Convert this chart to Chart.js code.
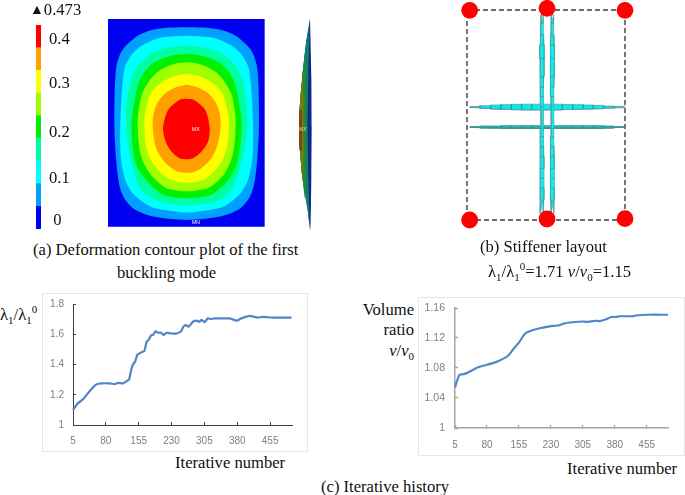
<!DOCTYPE html>
<html>
<head>
    <title>Buckling mode and iterative history</title>
    <script src="https://cdn.jsdelivr.net/npm/chart.js"></script>
    <style>
        html, body { margin: 0; padding: 0; background: #fff; overflow: hidden; }
        body { width: 685px; height: 495px; position: relative; }
        canvas { position: absolute; }
        .t { position: absolute; white-space: nowrap; font: 16.6px/18px "Liberation Serif", serif; color: #111; }
        .t sub, .t sup { font-size: 11px; line-height: 0; }
        .mark { position: absolute; font: 5px/5px "Liberation Sans", sans-serif; color: #fff; }
        .frame { position: absolute; border: 1px solid #e6e6e6; box-sizing: border-box; }
    </style>
</head>
<body>
    <div class="frame" style="left:42px;top:293px;width:266px;height:159px"></div>
    <div class="frame" style="left:418px;top:297px;width:267px;height:159px"></div>

    <canvas id="colorBar" width="44" height="218" style="left:34px;top:18px"></canvas>
    <canvas id="contourChart" width="157" height="208" style="left:108px;top:19px"></canvas>
    <canvas id="sideChart" width="40" height="225" style="left:285px;top:10px"></canvas>
    <canvas id="stiffenerChart" width="210" height="240" style="left:440px;top:0"></canvas>
    <canvas id="lambdaChart" width="264" height="157" style="left:43px;top:294px"></canvas>
    <canvas id="volumeChart" width="265" height="157" style="left:419px;top:298px"></canvas>

    <div class="t" style="left:30px;top:1px"><span style="font-size:14px;position:relative;top:-1px">▲</span>0.473</div>
    <div class="mark" style="left:192px;top:127px">MX</div>
    <div class="mark" style="left:192px;top:220px">MN</div>
    <div class="mark" style="left:299px;top:127px;color:#ddd">MX</div>

    <div class="t" style="left:33px;top:241px">(a) Deformation contour plot of the first</div>
    <div class="t" style="left:117px;top:264px">buckling mode</div>
    <div class="t" style="left:480px;top:238px">(b) Stiffener layout</div>
    <div class="t" style="left:488px;top:263px">λ<sub>1</sub>/λ<sub>1</sub><sup>0</sup>=1.71 <i>v</i>/<i>v</i><sub>0</sub>=1.15</div>
    <div class="t" style="left:0;top:306px">λ<sub>1</sub>/λ<sub>1</sub><sup>0</sup></div>
    <div class="t" style="left:175px;top:454px">Iterative number</div>
    <div class="t" style="right:271px;top:301px">Volume</div>
    <div class="t" style="right:271px;top:321px">ratio</div>
    <div class="t" style="right:271px;top:342px"><i>v</i>/<i>v</i><sub>0</sub></div>
    <div class="t" style="left:567px;top:460px">Iterative number</div>
    <div class="t" style="left:321px;top:478px">(c) Iterative history</div>

    <script>
        // iterative histories
        const iterTicks = [5, 80, 155, 230, 305, 380, 455];

        const lambdaIter = [5, 16, 28, 39, 51, 58, 70, 89, 100, 108, 119, 130, 133, 138, 142, 147, 152, 161, 168, 173, 177, 184, 188, 193, 199, 206, 212, 218, 229, 241, 252, 257, 263, 269, 279, 286, 294, 298, 305, 313, 320, 328, 343, 362, 379, 389, 408, 427, 438, 461, 504];
        const lambdaRatio = [1.10, 1.143, 1.17, 1.21, 1.25, 1.268, 1.275, 1.275, 1.27, 1.278, 1.275, 1.295, 1.30, 1.365, 1.40, 1.42, 1.465, 1.48, 1.49, 1.55, 1.56, 1.595, 1.595, 1.62, 1.61, 1.61, 1.595, 1.61, 1.605, 1.605, 1.62, 1.65, 1.66, 1.65, 1.683, 1.69, 1.683, 1.695, 1.68, 1.705, 1.70, 1.705, 1.705, 1.705, 1.69, 1.705, 1.722, 1.71, 1.715, 1.71, 1.71];
        const lambdaTicks = [1, 1.2, 1.4, 1.6, 1.8];

        const volumeIter = [5, 10, 16, 25, 39, 55, 71, 90, 106, 129, 141, 157, 168, 180, 204, 227, 250, 262, 282, 305, 313, 336, 344, 360, 372, 383, 391, 422, 430, 458, 505];
        const volumeRatio = [1.0542, 1.0636, 1.071, 1.0716, 1.075, 1.08, 1.083, 1.0858, 1.089, 1.096, 1.1045, 1.1155, 1.125, 1.129, 1.133, 1.1355, 1.137, 1.1395, 1.141, 1.142, 1.1415, 1.143, 1.1425, 1.145, 1.148, 1.148, 1.149, 1.149, 1.15, 1.151, 1.151];
        const volumeTicks = [1, 1.04, 1.08, 1.12, 1.16];

        // colour scale of the contour plot
        const bandColors = ['#0000f0', '#00a0ff', '#00ffff', '#00ffa0', '#00f000', '#a0ff00', '#ffff00', '#ffa000', '#ff0000'];
        const bandSizes = [0.0526, 0.0526, 0.0526, 0.0525, 0.0526, 0.0525, 0.0526, 0.0525, 0.0525];
        const colorTickValues = [0.0186, 0.1165, 0.2237, 0.338, 0.439];
        const colorTickLabels = [' 0', '0.1', '0.2', '0.3', '0.4'];

        // contour outlines, outermost first
        const plateEdge = [[325, 57], [795, 57], [795, 680], [325, 680], [325, 57]];
        const contourBands = [
            [[561,82],[628,84],[673,92],[708,107],[738,132],[758,157],[773,207],[778,366],[773,475],[763,555],[748,595],[718,628],[668,648],[600,658],[561,660],[522,658],[454,648],[404,628],[374,595],[359,555],[349,475],[344,366],[349,207],[364,157],[384,132],[414,107],[449,92],[494,84],[561,82]],
            [[561,107],[633,112],[673,125],[703,142],[728,167],[748,207],[760,366],[758,475],[743,545],[718,585],[670,620],[600,634],[561,638],[522,634],[454,620],[404,585],[379,545],[364,475],[362,366],[374,207],[394,167],[419,142],[449,125],[489,112],[561,107]],
            [[561,137],[613,142],[668,162],[698,187],[718,217],[733,257],[743,357],[735,450],[710,540],[690,575],[655,602],[600,613],[561,616],[522,613],[470,602],[430,575],[412,545],[390,460],[379,357],[389,257],[404,217],[424,187],[454,162],[509,142],[561,137]],
            [[561,162],[608,167],[658,187],[688,217],[708,257],[718,307],[726,370],[715,480],[690,535],[640,582],[600,592],[561,595],[522,592],[485,582],[435,535],[405,480],[396,370],[404,307],[414,257],[434,217],[464,187],[514,167],[561,162]],
            [[561,187],[598,192],[643,212],[673,242],[693,277],[703,317],[708,370],[700,460],[675,520],[630,562],[595,571],[561,574],[527,571],[495,562],[450,520],[422,460],[414,370],[419,317],[429,277],[449,242],[479,212],[524,192],[561,187]],
            [[561,222],[588,226],[628,242],[663,272],[678,307],[688,366],[682,440],[660,495],[615,538],[590,545],[561,548],[532,545],[510,538],[470,505],[442,450],[434,366],[444,307],[459,272],[494,242],[534,226],[561,222]],
            [[561,254],[593,262],[628,282],[653,317],[663,366],[655,430],[635,475],[605,505],[585,515],[561,518],[537,515],[520,508],[490,480],[468,440],[459,366],[469,317],[494,282],[529,262],[561,254]],
            [[561,296],[578,298],[593,307],[618,332],[630,385],[625,425],[605,455],[580,475],[560,478],[540,475],[520,460],[500,430],[490,385],[504,332],[529,307],[544,298],[561,296]]
        ];

        // side view of the buckled plate
        const sideColors = ['#0a2a86', '#0f7f72', '#2c8a1e', '#6f7f12', '#8a3c12'];
        const sideLayers = [
            [[75,25],[63,100],[52,200],[45,280],[42,350],[45,420],[52,500],[68,600],[76,660],[79,500],[80,350],[79,200],[75,25]],
            [[74,40],[63,100],[52,200],[45,280],[42,350],[45,420],[52,500],[68,600],[74,645],[70,500],[68,350],[70,200],[74,40]],
            [[60,130],[52,200],[45,280],[42,350],[45,420],[52,500],[60,565],[62,450],[62,350],[62,240],[60,130]],
            [[53,195],[45,280],[42,350],[45,420],[53,510],[56,420],[56,350],[56,280],[53,195]],
            [[44,300],[42,350],[44,422],[50,422],[50,300],[44,300]]
        ];

        // stiffener layout: panel corners and supports
        const panelEdge = [[81, 30], [555, 30], [555, 660], [81, 660], [81, 30]];
        const supportX = [89, 321, 555, 89, 321, 555];
        const supportY = [31, 25, 31, 660, 657, 656];

        // stiffeners: element stations along the length and half thickness of each element
        const verticalStations = [45, 70, 105, 135, 175, 230, 262, 290, 318, 385, 410, 440, 470, 505, 535, 565, 600, 640];
        const verticalHalf = [3, 4, 5, 7, 6, 5, 5, 4, 3, 4, 5, 5, 6, 6, 6, 6, 4];
        const verticalCentres = [306, 337];
        const horizontalStations = [90, 120, 152, 183, 214, 245, 275, 305, 335, 367, 398, 430, 460, 491, 522, 555];
        const upperHalf = [1.5, 4, 6, 7, 8, 8.5, 8.5, 8.5, 8.5, 7.5, 7, 6, 5, 3, 2];
        const lowerHalf = [1.2, 3, 3, 4, 4, 4, 4, 4, 4, 4, 4, 4, 4, 3, 1.2];
        const horizontalCentres = [321, 381];

        const toPoints = (xs, ys) => xs.map((x, i) => ({ x: x, y: ys[i] }));
        const pairPoints = (list) => list.map((p) => ({ x: p[0], y: p[1] }));

        function stripOutline(stations, half, centre, vertical) {
            const side1 = [];
            const side2 = [];
            half.forEach((h, i) => {
                side1.push([stations[i], centre - h], [stations[i + 1], centre - h]);
                side2.unshift([stations[i], centre + h], [stations[i + 1], centre + h]);
            });
            const outline = side1.concat(side2);
            outline.push(outline[0]);
            return outline.map((p) => (vertical ? { x: p[1], y: p[0] } : { x: p[0], y: p[1] }));
        }

        function stripTicks(stations, half, centre, vertical) {
            const pts = [];
            half.forEach((h, i) => {
                const a = [stations[i], centre - h];
                const b = [stations[i], centre + h];
                [a, b].forEach((p) => pts.push(vertical ? { x: p[1], y: p[0] } : { x: p[0], y: p[1] }));
                pts.push({ x: NaN, y: NaN });
            });
            return pts;
        }

        function shape(points, color, tension) {
            return { data: points, showLine: true, fill: 'shape', backgroundColor: color, borderColor: color, borderWidth: 0, pointRadius: 0, tension: tension || 0 };
        }

        function bareOptions(xMin, xMax, yMin, yMax) {
            return {
                responsive: false,
                animation: false,
                events: [],
                layout: { padding: 0, autoPadding: false },
                plugins: { legend: { display: false }, tooltip: { enabled: false } },
                scales: {
                    x: { type: 'linear', display: false, min: xMin, max: xMax },
                    y: { type: 'linear', display: false, min: yMin, max: yMax, reverse: true }
                }
            };
        }

        // later datasets sit on top
        function stacked(list) {
            list.forEach((d, i) => { d.order = -i; });
            return list;
        }

        new Chart(document.getElementById('colorBar'), {
            type: 'bar',
            data: {
                labels: ['scale'],
                datasets: bandSizes.map((size, i) => ({
                    data: [size],
                    backgroundColor: bandColors[i],
                    borderWidth: 0,
                    barPercentage: 1,
                    categoryPercentage: 1
                }))
            },
            options: {
                responsive: false,
                animation: false,
                events: [],
                layout: { padding: { left: 2, top: 7, bottom: 7, right: 0 }, autoPadding: false },
                plugins: { legend: { display: false }, tooltip: { enabled: false } },
                scales: {
                    x: { stacked: true, display: false },
                    y: {
                        stacked: true,
                        position: 'right',
                        min: 0,
                        max: 0.473,
                        afterBuildTicks: (s) => { s.ticks = colorTickValues.map((v) => ({ value: v })); },
                        afterFit: (s) => { s.width = 37; s.paddingTop = 0; s.paddingBottom = 0; },
                        grid: { display: false, drawTicks: false },
                        border: { display: false },
                        ticks: {
                            padding: 8,
                            color: '#111',
                            font: { family: 'Liberation Serif', size: 16.6 },
                            callback: (v, i) => colorTickLabels[i]
                        }
                    }
                }
            }
        });

        new Chart(document.getElementById('contourChart'), {
            type: 'scatter',
            data: {
                datasets: stacked([shape(pairPoints(plateEdge), bandColors[0])].concat(
                    contourBands.map((band, i) => shape(pairPoints(band), bandColors[i + 1], 0.3))
                ))
            },
            options: bareOptions(325, 796, 57, 681)
        });

        new Chart(document.getElementById('sideChart'), {
            type: 'scatter',
            data: {
                datasets: stacked(sideLayers.map((layer, i) => shape(pairPoints(layer), sideColors[i], 0.2)))
            },
            options: bareOptions(0, 120, 0, 675)
        });

        const stiffenerSets = [];
        horizontalCentres.forEach((centre, k) => {
            const half = k === 0 ? upperHalf : lowerHalf;
            const set = shape(stripOutline(horizontalStations, half, centre, false), k === 0 ? '#00f0f0' : '#14bcbc');
            set.borderColor = k === 0 ? '#5aa6aa' : '#3f8f94';
            set.borderWidth = 0.8;
            stiffenerSets.push(set);
            stiffenerSets.push({ data: stripTicks(horizontalStations, half, centre, false), showLine: true, spanGaps: false, borderColor: '#3f8f94', borderWidth: 0.7, pointRadius: 0 });
        });
        verticalCentres.forEach((centre) => {
            const set = shape(stripOutline(verticalStations, verticalHalf, centre, true), '#00f5f5');
            set.borderColor = '#4fa4a8';
            set.borderWidth = 0.8;
            stiffenerSets.push(set);
            stiffenerSets.push({ data: stripTicks(verticalStations, verticalHalf, centre, true), showLine: true, spanGaps: false, borderColor: '#3f8f94', borderWidth: 0.7, pointRadius: 0 });
        });
        stiffenerSets.unshift({ data: pairPoints(panelEdge), showLine: true, borderColor: '#3c3c3c', borderWidth: 1.4, borderDash: [5, 3], pointRadius: 0 });
        stiffenerSets.push({ data: toPoints(supportX, supportY), pointRadius: 8.4, pointBackgroundColor: '#ff0000', pointBorderWidth: 0, clip: false });

        new Chart(document.getElementById('stiffenerChart'), {
            type: 'scatter',
            data: { datasets: stacked(stiffenerSets) },
            options: bareOptions(0, 630, 0, 720)
        });

        function historyChart(id, iters, values, yTicks, area, axisColor, axisWidth) {
            new Chart(document.getElementById(id), {
                type: 'scatter',
                data: {
                    datasets: [{
                        data: toPoints(iters, values),
                        showLine: true,
                        borderColor: '#4f86c6',
                        borderWidth: 2.2,
                        pointRadius: 0,
                        tension: 0.15,
                        clip: false
                    }]
                },
                options: {
                    responsive: false,
                    animation: false,
                    events: [],
                    layout: { padding: { left: 0, right: area.right, top: area.top, bottom: 0 }, autoPadding: false },
                    plugins: { legend: { display: false }, tooltip: { enabled: false } },
                    scales: {
                        x: {
                            type: 'linear',
                            min: 5,
                            max: 505,
                            afterBuildTicks: (s) => { s.ticks = iterTicks.map((v) => ({ value: v })); },
                            afterFit: (s) => { s.height = area.bottom; s.paddingLeft = 0; s.paddingRight = 0; },
                            grid: { drawOnChartArea: false, tickLength: -3, tickColor: axisColor, tickWidth: axisWidth },
                            border: { color: axisColor, width: axisWidth },
                            ticks: {
                                padding: area.xPad,
                                maxRotation: 0,
                                color: '#7f7f7f',
                                font: { family: 'Liberation Sans', size: 10 },
                                callback: (v) => String(v)
                            }
                        },
                        y: {
                            min: yTicks[0],
                            max: yTicks[yTicks.length - 1],
                            afterBuildTicks: (s) => { s.ticks = yTicks.map((v) => ({ value: v })); },
                            afterFit: (s) => { s.width = area.left; s.paddingTop = 0; s.paddingBottom = 0; },
                            grid: { drawOnChartArea: false, tickLength: -3, tickColor: axisColor, tickWidth: axisWidth },
                            border: { color: axisColor, width: axisWidth },
                            ticks: {
                                padding: area.yPad,
                                color: '#7f7f7f',
                                font: { family: 'Liberation Sans', size: area.yFont },
                                callback: (v) => String(v)
                            }
                        }
                    }
                }
            });
        }

        historyChart('lambdaChart', lambdaIter, lambdaRatio, lambdaTicks, { left: 30, right: 15, top: 10, bottom: 26, xPad: 13, yPad: 12, yFont: 10 }, '#404040', 1);
        historyChart('volumeChart', volumeIter, volumeRatio, volumeTicks, { left: 36, right: 16, top: 10, bottom: 27, xPad: 14, yPad: 13, yFont: 10.5 }, '#a6a6a6', 1.5);
    </script>
</body>
</html>
